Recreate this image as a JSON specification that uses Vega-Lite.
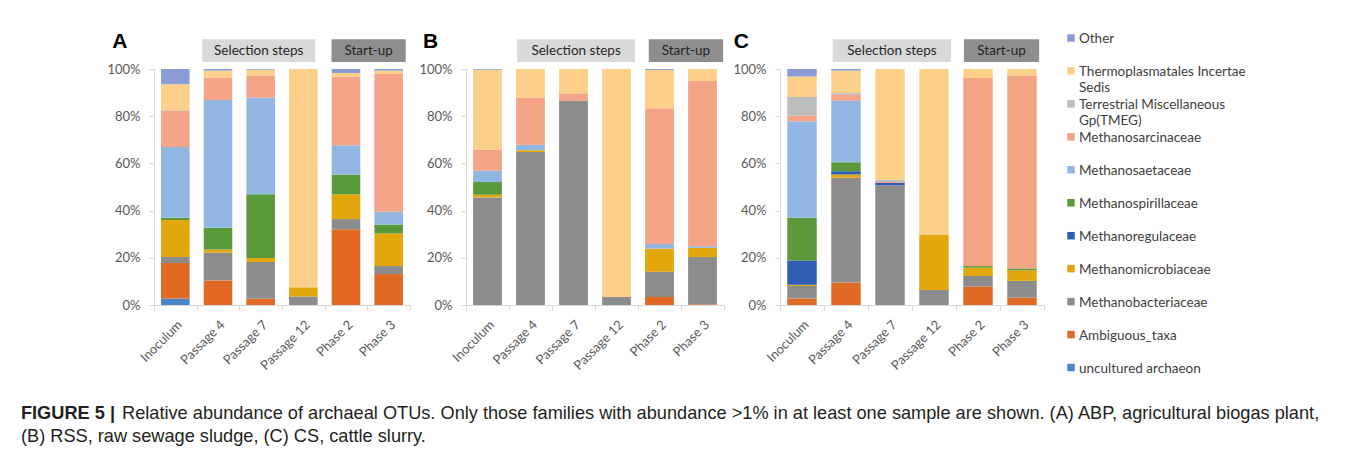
{
  "$schema": "https://vega.github.io/schema/vega-lite/v6.json",
  "padding": {"left": 20, "top": 30, "right": 5, "bottom": 5},
  "background": "white",
  "bounds": "flush",
  "spacing": 56,
  "config": {"view": {"stroke": null}, "font": "Lato"},
  "title": {
    "text": "FIGURE 5 |",
    "subtitle": ["\u200b\u00a0\u00a0\u00a0\u00a0\u00a0\u00a0\u00a0\u00a0\u00a0\u00a0\u00a0\u00a0\u00a0\u00a0\u00a0\u00a0\u00a0\u00a0\u00a0\u00a0Relative abundance of archaeal OTUs. Only those families with abundance >1% in at least one sample are shown. (A) ABP, agricultural biogas plant,", "(B) RSS, raw sewage sludge, (C) CS, cattle slurry."],
    "orient": "bottom", "anchor": "start", "frame": "bounds",
    "dx": -86, "offset": 30,
    "font": "Liberation Sans", "fontSize": 18.2, "fontWeight": "bold", "color": "#231f20",
    "subtitleFont": "Liberation Sans", "subtitleFontSize": 18.2, "subtitleFontWeight": "normal", "subtitleColor": "#231f20",
    "subtitlePadding": -18.2, "subtitleLineHeight": 23
  },
  "datasets": {
    "A": [
      {"sample": "Inoculum", "family": "uncultured archaeon", "value": 2.8},
      {"sample": "Inoculum", "family": "Ambiguous_taxa", "value": 15.0},
      {"sample": "Inoculum", "family": "Methanobacteriaceae", "value": 2.5},
      {"sample": "Inoculum", "family": "Methanomicrobiaceae", "value": 15.7},
      {"sample": "Inoculum", "family": "Methanospirillaceae", "value": 1.0},
      {"sample": "Inoculum", "family": "Methanosaetaceae", "value": 29.9},
      {"sample": "Inoculum", "family": "Methanosarcinaceae", "value": 15.3},
      {"sample": "Inoculum", "family": "Terrestrial Miscellaneous Gp(TMEG)", "value": 0.3},
      {"sample": "Inoculum", "family": "Thermoplasmatales Incertae Sedis", "value": 11.0},
      {"sample": "Inoculum", "family": "Other", "value": 6.5},
      {"sample": "Passage 4", "family": "Ambiguous_taxa", "value": 10.4},
      {"sample": "Passage 4", "family": "Methanobacteriaceae", "value": 11.8},
      {"sample": "Passage 4", "family": "Methanomicrobiaceae", "value": 1.3},
      {"sample": "Passage 4", "family": "Methanospirillaceae", "value": 9.2},
      {"sample": "Passage 4", "family": "Methanosaetaceae", "value": 54.2},
      {"sample": "Passage 4", "family": "Methanosarcinaceae", "value": 9.5},
      {"sample": "Passage 4", "family": "Thermoplasmatales Incertae Sedis", "value": 2.9},
      {"sample": "Passage 4", "family": "Other", "value": 0.7},
      {"sample": "Passage 7", "family": "Ambiguous_taxa", "value": 2.6},
      {"sample": "Passage 7", "family": "Methanobacteriaceae", "value": 15.6},
      {"sample": "Passage 7", "family": "Methanomicrobiaceae", "value": 1.7},
      {"sample": "Passage 7", "family": "Methanospirillaceae", "value": 27.0},
      {"sample": "Passage 7", "family": "Methanosaetaceae", "value": 41.0},
      {"sample": "Passage 7", "family": "Methanosarcinaceae", "value": 9.3},
      {"sample": "Passage 7", "family": "Thermoplasmatales Incertae Sedis", "value": 2.5},
      {"sample": "Passage 7", "family": "Other", "value": 0.3},
      {"sample": "Passage 12", "family": "Methanobacteriaceae", "value": 3.6},
      {"sample": "Passage 12", "family": "Methanomicrobiaceae", "value": 3.9},
      {"sample": "Passage 12", "family": "Thermoplasmatales Incertae Sedis", "value": 92.5},
      {"sample": "Phase 2", "family": "Ambiguous_taxa", "value": 32.1},
      {"sample": "Phase 2", "family": "Methanobacteriaceae", "value": 4.3},
      {"sample": "Phase 2", "family": "Methanomicrobiaceae", "value": 10.5},
      {"sample": "Phase 2", "family": "Methanospirillaceae", "value": 8.3},
      {"sample": "Phase 2", "family": "Methanosaetaceae", "value": 12.5},
      {"sample": "Phase 2", "family": "Methanosarcinaceae", "value": 29.0},
      {"sample": "Phase 2", "family": "Thermoplasmatales Incertae Sedis", "value": 1.6},
      {"sample": "Phase 2", "family": "Other", "value": 1.7},
      {"sample": "Phase 3", "family": "Ambiguous_taxa", "value": 13.1},
      {"sample": "Phase 3", "family": "Methanobacteriaceae", "value": 3.4},
      {"sample": "Phase 3", "family": "Methanomicrobiaceae", "value": 13.8},
      {"sample": "Phase 3", "family": "Methanospirillaceae", "value": 3.8},
      {"sample": "Phase 3", "family": "Methanosaetaceae", "value": 5.4},
      {"sample": "Phase 3", "family": "Methanosarcinaceae", "value": 58.4},
      {"sample": "Phase 3", "family": "Thermoplasmatales Incertae Sedis", "value": 1.4},
      {"sample": "Phase 3", "family": "Other", "value": 0.7}
    ],
    "B": [
      {"sample": "Inoculum", "family": "Methanobacteriaceae", "value": 45.6},
      {"sample": "Inoculum", "family": "Methanomicrobiaceae", "value": 1.1},
      {"sample": "Inoculum", "family": "Methanospirillaceae", "value": 5.4},
      {"sample": "Inoculum", "family": "Methanosaetaceae", "value": 4.8},
      {"sample": "Inoculum", "family": "Methanosarcinaceae", "value": 8.9},
      {"sample": "Inoculum", "family": "Thermoplasmatales Incertae Sedis", "value": 33.9},
      {"sample": "Inoculum", "family": "Other", "value": 0.3},
      {"sample": "Passage 4", "family": "Methanobacteriaceae", "value": 64.8},
      {"sample": "Passage 4", "family": "Methanomicrobiaceae", "value": 0.8},
      {"sample": "Passage 4", "family": "Methanosaetaceae", "value": 2.3},
      {"sample": "Passage 4", "family": "Methanosarcinaceae", "value": 20.0},
      {"sample": "Passage 4", "family": "Thermoplasmatales Incertae Sedis", "value": 12.1},
      {"sample": "Passage 7", "family": "Methanobacteriaceae", "value": 86.5},
      {"sample": "Passage 7", "family": "Methanosarcinaceae", "value": 3.2},
      {"sample": "Passage 7", "family": "Thermoplasmatales Incertae Sedis", "value": 10.3},
      {"sample": "Passage 12", "family": "Methanobacteriaceae", "value": 3.4},
      {"sample": "Passage 12", "family": "Thermoplasmatales Incertae Sedis", "value": 96.6},
      {"sample": "Phase 2", "family": "Ambiguous_taxa", "value": 3.4},
      {"sample": "Phase 2", "family": "Methanobacteriaceae", "value": 10.7},
      {"sample": "Phase 2", "family": "Methanomicrobiaceae", "value": 9.8},
      {"sample": "Phase 2", "family": "Methanosaetaceae", "value": 2.0},
      {"sample": "Phase 2", "family": "Methanosarcinaceae", "value": 57.5},
      {"sample": "Phase 2", "family": "Thermoplasmatales Incertae Sedis", "value": 16.2},
      {"sample": "Phase 2", "family": "Other", "value": 0.4},
      {"sample": "Phase 3", "family": "Ambiguous_taxa", "value": 0.3},
      {"sample": "Phase 3", "family": "Methanobacteriaceae", "value": 20.0},
      {"sample": "Phase 3", "family": "Methanomicrobiaceae", "value": 3.9},
      {"sample": "Phase 3", "family": "Methanosaetaceae", "value": 0.7},
      {"sample": "Phase 3", "family": "Methanosarcinaceae", "value": 70.0},
      {"sample": "Phase 3", "family": "Thermoplasmatales Incertae Sedis", "value": 5.1}
    ],
    "C": [
      {"sample": "Inoculum", "family": "Ambiguous_taxa", "value": 2.8},
      {"sample": "Inoculum", "family": "Methanobacteriaceae", "value": 5.3},
      {"sample": "Inoculum", "family": "Methanomicrobiaceae", "value": 0.5},
      {"sample": "Inoculum", "family": "Methanoregulaceae", "value": 10.3},
      {"sample": "Inoculum", "family": "Methanospirillaceae", "value": 18.1},
      {"sample": "Inoculum", "family": "Methanosaetaceae", "value": 40.9},
      {"sample": "Inoculum", "family": "Methanosarcinaceae", "value": 2.4},
      {"sample": "Inoculum", "family": "Terrestrial Miscellaneous Gp(TMEG)", "value": 7.8},
      {"sample": "Inoculum", "family": "Thermoplasmatales Incertae Sedis", "value": 8.7},
      {"sample": "Inoculum", "family": "Other", "value": 3.2},
      {"sample": "Passage 4", "family": "Ambiguous_taxa", "value": 9.5},
      {"sample": "Passage 4", "family": "Methanobacteriaceae", "value": 44.4},
      {"sample": "Passage 4", "family": "Methanomicrobiaceae", "value": 1.4},
      {"sample": "Passage 4", "family": "Methanoregulaceae", "value": 1.4},
      {"sample": "Passage 4", "family": "Methanospirillaceae", "value": 3.8},
      {"sample": "Passage 4", "family": "Methanosaetaceae", "value": 26.1},
      {"sample": "Passage 4", "family": "Methanosarcinaceae", "value": 2.5},
      {"sample": "Passage 4", "family": "Terrestrial Miscellaneous Gp(TMEG)", "value": 0.7},
      {"sample": "Passage 4", "family": "Thermoplasmatales Incertae Sedis", "value": 9.5},
      {"sample": "Passage 4", "family": "Other", "value": 0.7},
      {"sample": "Passage 7", "family": "Methanobacteriaceae", "value": 50.7},
      {"sample": "Passage 7", "family": "Methanoregulaceae", "value": 1.0},
      {"sample": "Passage 7", "family": "Methanosarcinaceae", "value": 0.4},
      {"sample": "Passage 7", "family": "Terrestrial Miscellaneous Gp(TMEG)", "value": 1.0},
      {"sample": "Passage 7", "family": "Thermoplasmatales Incertae Sedis", "value": 46.9},
      {"sample": "Passage 12", "family": "Methanobacteriaceae", "value": 6.4},
      {"sample": "Passage 12", "family": "Methanomicrobiaceae", "value": 23.3},
      {"sample": "Passage 12", "family": "Thermoplasmatales Incertae Sedis", "value": 70.3},
      {"sample": "Phase 2", "family": "Ambiguous_taxa", "value": 7.8},
      {"sample": "Phase 2", "family": "Methanobacteriaceae", "value": 4.5},
      {"sample": "Phase 2", "family": "Methanomicrobiaceae", "value": 3.5},
      {"sample": "Phase 2", "family": "Methanospirillaceae", "value": 0.7},
      {"sample": "Phase 2", "family": "Methanosarcinaceae", "value": 79.7},
      {"sample": "Phase 2", "family": "Thermoplasmatales Incertae Sedis", "value": 3.8},
      {"sample": "Phase 3", "family": "Ambiguous_taxa", "value": 3.1},
      {"sample": "Phase 3", "family": "Methanobacteriaceae", "value": 7.1},
      {"sample": "Phase 3", "family": "Methanomicrobiaceae", "value": 4.5},
      {"sample": "Phase 3", "family": "Methanospirillaceae", "value": 0.8},
      {"sample": "Phase 3", "family": "Methanosarcinaceae", "value": 81.7},
      {"sample": "Phase 3", "family": "Thermoplasmatales Incertae Sedis", "value": 2.8}
    ],
    "legend": [
      {"family": "Other", "rank": 11, "label": "Other"},
      {"family": "Thermoplasmatales Incertae Sedis", "rank": 10, "label": "Thermoplasmatales Incertae\nSedis"},
      {"family": "Terrestrial Miscellaneous Gp(TMEG)", "rank": 9, "label": "Terrestrial Miscellaneous\nGp(TMEG)"},
      {"family": "Methanosarcinaceae", "rank": 8, "label": "Methanosarcinaceae"},
      {"family": "Methanosaetaceae", "rank": 7, "label": "Methanosaetaceae"},
      {"family": "Methanospirillaceae", "rank": 6, "label": "Methanospirillaceae"},
      {"family": "Methanoregulaceae", "rank": 5, "label": "Methanoregulaceae"},
      {"family": "Methanomicrobiaceae", "rank": 4, "label": "Methanomicrobiaceae"},
      {"family": "Methanobacteriaceae", "rank": 3, "label": "Methanobacteriaceae"},
      {"family": "Ambiguous_taxa", "rank": 2, "label": "Ambiguous_taxa"},
      {"family": "uncultured archaeon", "rank": 1, "label": "uncultured archaeon"}
    ]
  },
  "hconcat": [
    {
      "width": 256, "height": 236,
      "resolve": {"scale": {"x": "independent"}},
      "layer": [
        {
          "data": {"name": "A"},
          "transform": [{"lookup": "family", "from": {"data": {"name": "legend"}, "key": "family", "fields": ["rank"]}}],
          "mark": {"type": "bar", "width": {"band": 0.67}},
          "encoding": {
            "x": {"field": "sample", "type": "nominal", "sort": ["Inoculum", "Passage 4", "Passage 7", "Passage 12", "Phase 2", "Phase 3"], "scale": {"paddingInner": 0, "paddingOuter": 0},
                  "axis": {"title": null, "labelAngle": -45, "labelAlign": "right", "labelBaseline": "top", "labelPadding": 8, "tickBand": "extent", "domainColor": "#d9d9d9", "tickColor": "#d9d9d9", "tickSize": 5, "labelFont": "Lato", "labelFontSize": 13, "labelColor": "#595959"}},
            "y": {"field": "value", "type": "quantitative", "stack": "zero", "scale": {"domain": [0, 100], "nice": false},
                  "axis": {"title": null, "values": [0, 10, 20, 30, 40, 50, 60, 70, 80, 90, 100], "labelExpr": "datum.value + '%'", "grid": false, "domainColor": "#d9d9d9", "tickColor": "#d9d9d9", "tickSize": 5, "labelPadding": 9, "labelFont": "Lato", "labelFontSize": 13, "labelColor": "#595959"}},
            "order": {"field": "rank", "type": "quantitative", "sort": "ascending"},
            "color": {"field": "family", "type": "nominal", "legend": null,
                      "scale": {"domain": ["uncultured archaeon", "Ambiguous_taxa", "Methanobacteriaceae", "Methanomicrobiaceae", "Methanoregulaceae", "Methanospirillaceae", "Methanosaetaceae", "Methanosarcinaceae", "Terrestrial Miscellaneous Gp(TMEG)", "Thermoplasmatales Incertae Sedis", "Other"],
                                "range": ["#4a86c6", "#e06a24", "#8c8c8c", "#e2a70d", "#2f5db3", "#5b9a3b", "#92b6e2", "#f3a487", "#bdbdbd", "#fdd089", "#8a9bd6"]}}
          }
        },
        {
          "data": {"values": [{}]},
          "mark": {"type": "rect", "clip": false, "color": "#d9d9d9"},
          "encoding": {
            "x": {"datum": 1.13, "type": "quantitative", "scale": {"domain": [0, 6]}, "axis": null},
            "x2": {"datum": 3.78},
            "y": {"datum": 103, "type": "quantitative", "scale": {"domain": [0, 100], "nice": false}},
            "y2": {"datum": 112.6}
          }
        },
        {
          "data": {"values": [{}]},
          "mark": {"type": "rect", "clip": false, "color": "#8e8e8e"},
          "encoding": {
            "x": {"datum": 4.16, "type": "quantitative", "scale": {"domain": [0, 6]}, "axis": null},
            "x2": {"datum": 5.9},
            "y": {"datum": 103, "type": "quantitative", "scale": {"domain": [0, 100], "nice": false}},
            "y2": {"datum": 112.6}
          }
        },
        {
          "data": {"values": [{"t": "Selection steps", "p": 2.455}, {"t": "Start-up", "p": 5.03}]},
          "mark": {"type": "text", "clip": false, "align": "center", "baseline": "middle", "font": "Lato", "fontSize": 13.5, "color": "#262626"},
          "encoding": {
            "x": {"field": "p", "type": "quantitative", "scale": {"domain": [0, 6]}, "axis": null},
            "y": {"datum": 107.8, "type": "quantitative", "scale": {"domain": [0, 100], "nice": false}},
            "text": {"field": "t"}
          }
        },
        {
          "data": {"values": [{}]},
          "mark": {"type": "text", "clip": false, "align": "left", "baseline": "alphabetic", "font": "Liberation Sans", "fontWeight": "bold", "fontSize": 21, "color": "#000000", "text": "A"},
          "encoding": {
            "x": {"datum": -0.98, "type": "quantitative", "scale": {"domain": [0, 6]}, "axis": null},
            "y": {"datum": 109, "type": "quantitative", "scale": {"domain": [0, 100], "nice": false}}
          }
        }
      ]
    },
    {
      "width": 258, "height": 236,
      "resolve": {"scale": {"x": "independent"}},
      "layer": [
        {
          "data": {"name": "B"},
          "transform": [{"lookup": "family", "from": {"data": {"name": "legend"}, "key": "family", "fields": ["rank"]}}],
          "mark": {"type": "bar", "width": {"band": 0.67}},
          "encoding": {
            "x": {"field": "sample", "type": "nominal", "sort": ["Inoculum", "Passage 4", "Passage 7", "Passage 12", "Phase 2", "Phase 3"], "scale": {"paddingInner": 0, "paddingOuter": 0},
                  "axis": {"title": null, "labelAngle": -45, "labelAlign": "right", "labelBaseline": "top", "labelPadding": 8, "tickBand": "extent", "domainColor": "#d9d9d9", "tickColor": "#d9d9d9", "tickSize": 5, "labelFont": "Lato", "labelFontSize": 13, "labelColor": "#595959"}},
            "y": {"field": "value", "type": "quantitative", "stack": "zero", "scale": {"domain": [0, 100], "nice": false},
                  "axis": {"title": null, "values": [0, 10, 20, 30, 40, 50, 60, 70, 80, 90, 100], "labelExpr": "datum.value + '%'", "grid": false, "domainColor": "#d9d9d9", "tickColor": "#d9d9d9", "tickSize": 5, "labelPadding": 9, "labelFont": "Lato", "labelFontSize": 13, "labelColor": "#595959"}},
            "order": {"field": "rank", "type": "quantitative", "sort": "ascending"},
            "color": {"field": "family", "type": "nominal", "legend": null,
                      "scale": {"domain": ["uncultured archaeon", "Ambiguous_taxa", "Methanobacteriaceae", "Methanomicrobiaceae", "Methanoregulaceae", "Methanospirillaceae", "Methanosaetaceae", "Methanosarcinaceae", "Terrestrial Miscellaneous Gp(TMEG)", "Thermoplasmatales Incertae Sedis", "Other"],
                                "range": ["#4a86c6", "#e06a24", "#8c8c8c", "#e2a70d", "#2f5db3", "#5b9a3b", "#92b6e2", "#f3a487", "#bdbdbd", "#fdd089", "#8a9bd6"]}}
          }
        },
        {
          "data": {"values": [{}]},
          "mark": {"type": "rect", "clip": false, "color": "#d9d9d9"},
          "encoding": {
            "x": {"datum": 1.19, "type": "quantitative", "scale": {"domain": [0, 6]}, "axis": null},
            "x2": {"datum": 3.93},
            "y": {"datum": 103, "type": "quantitative", "scale": {"domain": [0, 100], "nice": false}},
            "y2": {"datum": 112.6}
          }
        },
        {
          "data": {"values": [{}]},
          "mark": {"type": "rect", "clip": false, "color": "#8e8e8e"},
          "encoding": {
            "x": {"datum": 4.25, "type": "quantitative", "scale": {"domain": [0, 6]}, "axis": null},
            "x2": {"datum": 5.98},
            "y": {"datum": 103, "type": "quantitative", "scale": {"domain": [0, 100], "nice": false}},
            "y2": {"datum": 112.6}
          }
        },
        {
          "data": {"values": [{"t": "Selection steps", "p": 2.56}, {"t": "Start-up", "p": 5.115}]},
          "mark": {"type": "text", "clip": false, "align": "center", "baseline": "middle", "font": "Lato", "fontSize": 13.5, "color": "#262626"},
          "encoding": {
            "x": {"field": "p", "type": "quantitative", "scale": {"domain": [0, 6]}, "axis": null},
            "y": {"datum": 107.8, "type": "quantitative", "scale": {"domain": [0, 100], "nice": false}},
            "text": {"field": "t"}
          }
        },
        {
          "data": {"values": [{}]},
          "mark": {"type": "text", "clip": false, "align": "left", "baseline": "alphabetic", "font": "Liberation Sans", "fontWeight": "bold", "fontSize": 21, "color": "#000000", "text": "B"},
          "encoding": {
            "x": {"datum": -1.0, "type": "quantitative", "scale": {"domain": [0, 6]}, "axis": null},
            "y": {"datum": 109, "type": "quantitative", "scale": {"domain": [0, 100], "nice": false}}
          }
        }
      ]
    },
    {
      "width": 264, "height": 236,
      "resolve": {"scale": {"x": "independent"}},
      "layer": [
        {
          "data": {"name": "C"},
          "transform": [{"lookup": "family", "from": {"data": {"name": "legend"}, "key": "family", "fields": ["rank"]}}],
          "mark": {"type": "bar", "width": {"band": 0.67}},
          "encoding": {
            "x": {"field": "sample", "type": "nominal", "sort": ["Inoculum", "Passage 4", "Passage 7", "Passage 12", "Phase 2", "Phase 3"], "scale": {"paddingInner": 0, "paddingOuter": 0},
                  "axis": {"title": null, "labelAngle": -45, "labelAlign": "right", "labelBaseline": "top", "labelPadding": 8, "tickBand": "extent", "domainColor": "#d9d9d9", "tickColor": "#d9d9d9", "tickSize": 5, "labelFont": "Lato", "labelFontSize": 13, "labelColor": "#595959"}},
            "y": {"field": "value", "type": "quantitative", "stack": "zero", "scale": {"domain": [0, 100], "nice": false},
                  "axis": {"title": null, "values": [0, 10, 20, 30, 40, 50, 60, 70, 80, 90, 100], "labelExpr": "datum.value + '%'", "grid": false, "domainColor": "#d9d9d9", "tickColor": "#d9d9d9", "tickSize": 5, "labelPadding": 9, "labelFont": "Lato", "labelFontSize": 13, "labelColor": "#595959"}},
            "order": {"field": "rank", "type": "quantitative", "sort": "ascending"},
            "color": {"field": "family", "type": "nominal", "legend": null,
                      "scale": {"domain": ["uncultured archaeon", "Ambiguous_taxa", "Methanobacteriaceae", "Methanomicrobiaceae", "Methanoregulaceae", "Methanospirillaceae", "Methanosaetaceae", "Methanosarcinaceae", "Terrestrial Miscellaneous Gp(TMEG)", "Thermoplasmatales Incertae Sedis", "Other"],
                                "range": ["#4a86c6", "#e06a24", "#8c8c8c", "#e2a70d", "#2f5db3", "#5b9a3b", "#92b6e2", "#f3a487", "#bdbdbd", "#fdd089", "#8a9bd6"]}}
          }
        },
        {
          "data": {"values": [{}]},
          "mark": {"type": "rect", "clip": false, "color": "#d9d9d9"},
          "encoding": {
            "x": {"datum": 1.2, "type": "quantitative", "scale": {"domain": [0, 6]}, "axis": null},
            "x2": {"datum": 3.89},
            "y": {"datum": 103, "type": "quantitative", "scale": {"domain": [0, 100], "nice": false}},
            "y2": {"datum": 112.6}
          }
        },
        {
          "data": {"values": [{}]},
          "mark": {"type": "rect", "clip": false, "color": "#8e8e8e"},
          "encoding": {
            "x": {"datum": 4.18, "type": "quantitative", "scale": {"domain": [0, 6]}, "axis": null},
            "x2": {"datum": 5.89},
            "y": {"datum": 103, "type": "quantitative", "scale": {"domain": [0, 100], "nice": false}},
            "y2": {"datum": 112.6}
          }
        },
        {
          "data": {"values": [{"t": "Selection steps", "p": 2.545}, {"t": "Start-up", "p": 5.035}]},
          "mark": {"type": "text", "clip": false, "align": "center", "baseline": "middle", "font": "Lato", "fontSize": 13.5, "color": "#262626"},
          "encoding": {
            "x": {"field": "p", "type": "quantitative", "scale": {"domain": [0, 6]}, "axis": null},
            "y": {"datum": 107.8, "type": "quantitative", "scale": {"domain": [0, 100], "nice": false}},
            "text": {"field": "t"}
          }
        },
        {
          "data": {"values": [{}]},
          "mark": {"type": "text", "clip": false, "align": "left", "baseline": "alphabetic", "font": "Liberation Sans", "fontWeight": "bold", "fontSize": 21, "color": "#000000", "text": "C"},
          "encoding": {
            "x": {"datum": -1.05, "type": "quantitative", "scale": {"domain": [0, 6]}, "axis": null},
            "y": {"datum": 109, "type": "quantitative", "scale": {"domain": [0, 100], "nice": false}}
          }
        }
      ]
    },
    {
      "width": 2, "height": 236,
      "data": {"name": "legend"},
      "layer": [
        {
          "mark": {"type": "point", "shape": "square", "filled": true, "size": 56, "opacity": 1, "xOffset": -30},
          "encoding": {
            "y": {"field": "family", "type": "nominal", "sort": ["Other", "Thermoplasmatales Incertae Sedis", "Terrestrial Miscellaneous Gp(TMEG)", "Methanosarcinaceae", "Methanosaetaceae", "Methanospirillaceae", "Methanoregulaceae", "Methanomicrobiaceae", "Methanobacteriaceae", "Ambiguous_taxa", "uncultured archaeon"],
                  "scale": {"type": "point", "range": [-31, 298.5], "padding": 0}, "axis": null},
            "color": {"field": "family", "type": "nominal", "legend": null,
                      "scale": {"domain": ["uncultured archaeon", "Ambiguous_taxa", "Methanobacteriaceae", "Methanomicrobiaceae", "Methanoregulaceae", "Methanospirillaceae", "Methanosaetaceae", "Methanosarcinaceae", "Terrestrial Miscellaneous Gp(TMEG)", "Thermoplasmatales Incertae Sedis", "Other"],
                                "range": ["#4a86c6", "#e06a24", "#8c8c8c", "#e2a70d", "#2f5db3", "#5b9a3b", "#92b6e2", "#f3a487", "#bdbdbd", "#fdd089", "#8a9bd6"]}}
          }
        },
        {
          "mark": {"type": "text", "align": "left", "baseline": "alphabetic", "dx": -22, "dy": 5, "lineBreak": "\n", "lineHeight": 16, "font": "Lato", "fontSize": 13.5, "color": "#404040"},
          "encoding": {
            "y": {"field": "family", "type": "nominal", "sort": ["Other", "Thermoplasmatales Incertae Sedis", "Terrestrial Miscellaneous Gp(TMEG)", "Methanosarcinaceae", "Methanosaetaceae", "Methanospirillaceae", "Methanoregulaceae", "Methanomicrobiaceae", "Methanobacteriaceae", "Ambiguous_taxa", "uncultured archaeon"],
                  "scale": {"type": "point", "range": [-31, 298.5], "padding": 0}, "axis": null},
            "text": {"field": "label"}
          }
        }
      ]
    }
  ]
}
